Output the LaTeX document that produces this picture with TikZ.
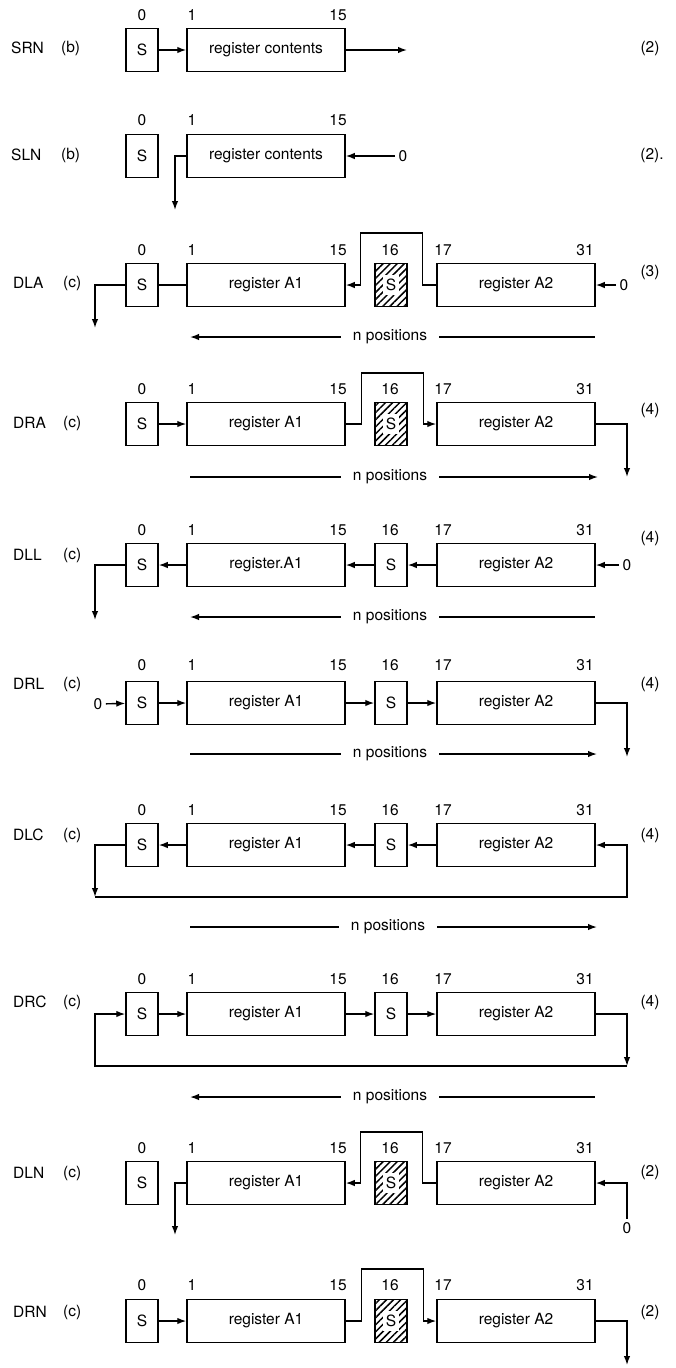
\documentclass[tikz,border=0pt]{standalone}
\usepackage{fontspec}
\setmainfont{TeX Gyre Heros}
\usetikzlibrary{arrows.meta,patterns.meta}

\begin{document}
\begin{tikzpicture}[
    x=1pt, y=-1pt,
    font=\fontsize{15.5}{18}\selectfont,
    bit/.style ={draw, line width=1.5pt, minimum width=32pt, minimum height=43pt,
                 inner sep=0pt},
    reg/.style ={bit, minimum width=158pt},
    hbit/.style={bit, line width=1.8pt,
                 pattern={Lines[angle=45, distance=5pt, line width=1.5pt]},
                 label={[fill=white, inner xsep=2.5pt, inner ysep=4pt]center:S}},
    arr/.style ={-{Latex[length=9pt, width=6.5pt]}, line width=1.4pt},
    ln/.style  ={line width=1.4pt},
    num/.style ={inner sep=0pt},
    op/.style  ={anchor=west, inner sep=0pt},
    npos/.style={inner xsep=12pt, inner ysep=0pt},
  ]
  \useasboundingbox (0,0) rectangle (676,1368);
  % bit numbers above the registers
  \foreach \cy in {15,120}
    \foreach \x/\b in {142/0,192/1,338/15}
      \node[num] (b\cy-\b) at (\x,\cy) {\b};
  \foreach \cy in {250,389,530,665,810,979,1148,1285}
    \foreach \x/\b in {142/0,192/1,338/15,390/16,443/17,585/31}
      \node[num] (b\cy-\b) at (\x,\cy) {\b};

  % SRN
  \node[op] (srnOp) at (11,48) {SRN};
  \node[op] (srnMd) at (61,48) {(b)};
  \node (srnNo) at (650,48) {(2)};
  \node[bit] (srnS0) at (142,50) {S};
  \node[reg] (srnR) at (266,50) {register contents};
  \coordinate (srnOut) at (407,50);
  \draw[arr] (srnS0) -- (srnR);
  \draw[arr] (srnR) -- (srnOut);

  % SLN
  \node[op] (slnOp) at (11,155) {SLN};
  \node[op] (slnMd) at (61,155) {(b)};
  \node (slnNo) at (652,155) {(2).};
  \node[bit] (slnS0) at (142,156) {S};
  \node[reg] (slnR) at (266,156) {register contents};
  \node (slnZero) at (403,156) {0};
  \coordinate (slnOut) at (175,210);
  \draw[arr] (slnZero) -- (slnR);
  \draw[arr] (slnR.west) -| (slnOut);

  % DLA
  \node[op] (dlaOp) at (13,283) {DLA};
  \node[op] (dlaMd) at (63,283) {(c)};
  \node (dlaNo) at (650,272) {(3)};
  \node[bit] (dlaS0) at (142,285) {S};
  \node[reg] (dlaA1) at (266,285) {register A1};
  \node[hbit] (dlaS16) at (391,285) {};
  \node[reg] (dlaA2) at (516,285) {register A2};
  \node (dlaZero) at (624,285) {0};
  \coordinate (dlaOut) at (95,328);
  \draw[ln] (dlaS0) -- (dlaA1);
  \draw[arr] (dlaA2.west) -- ++(-14,0) -- ++(0,-52) -- ++(-62,0) |- (dlaA1.east);
  \draw[arr] (dlaZero) -- (dlaA2);
  \draw[arr] (dlaS0.west) -| (dlaOut);
  \node[npos] (dlaN) at (390,337) {n positions};
  \coordinate (dlaNl) at (190,337);
  \coordinate (dlaNr) at (595,337);
  \draw[arr] (dlaN) -- (dlaNl);
  \draw[ln] (dlaN) -- (dlaNr);

  % DRA
  \node[op] (draOp) at (13,423) {DRA};
  \node[op] (draMd) at (63,423) {(c)};
  \node (draNo) at (650,410) {(4)};
  \node[bit] (draS0) at (142,424) {S};
  \node[reg] (draA1) at (266,424) {register A1};
  \node[hbit] (draS16) at (391,424) {};
  \node[reg] (draA2) at (516,424) {register A2};
  \coordinate (draOut) at (627,477);
  \draw[arr] (draS0) -- (draA1);
  \draw[arr] (draA1.east) -- ++(16,0) -- ++(0,-51) -- ++(62,0) |- (draA2.west);
  \draw[arr] (draA2.east) -| (draOut);
  \node[npos] (draN) at (390,477) {n positions};
  \coordinate (draNl) at (190,477);
  \coordinate (draNr) at (598,477);
  \draw[ln] (draN) -- (draNl);
  \draw[arr] (draN) -- (draNr);

  % DLL
  \node[op] (dllOp) at (13,555) {DLL};
  \node[op] (dllMd) at (63,555) {(c)};
  \node (dllNo) at (650,538) {(4)};
  \node[bit] (dllS0) at (142,565) {S};
  \node[reg] (dllA1) at (266,565) {register.A1};
  \node[bit] (dllS16) at (391,565) {S};
  \node[reg] (dllA2) at (516,565) {register A2};
  \node (dllZero) at (627,565) {0};
  \coordinate (dllOut) at (95,620);
  \draw[arr] (dllZero) -- (dllA2);
  \draw[arr] (dllA2) -- (dllS16);
  \draw[arr] (dllS16) -- (dllA1);
  \draw[arr] (dllA1) -- (dllS0);
  \draw[arr] (dllS0.west) -| (dllOut);
  \node[npos] (dllN) at (390,617) {n positions};
  \coordinate (dllNl) at (190,617);
  \coordinate (dllNr) at (595,617);
  \draw[arr] (dllN) -- (dllNl);
  \draw[ln] (dllN) -- (dllNr);

  % DRL
  \node[op] (drlOp) at (13,684) {DRL};
  \node[op] (drlMd) at (63,684) {(c)};
  \node (drlNo) at (650,684) {(4)};
  \node (drlZero) at (98,704) {0};
  \node[bit] (drlS0) at (142,703) {S};
  \node[reg] (drlA1) at (266,703) {register A1};
  \node[bit] (drlS16) at (391,703) {S};
  \node[reg] (drlA2) at (516,703) {register A2};
  \coordinate (drlOut) at (627,757);
  \draw[arr] (drlZero) -- (drlS0);
  \draw[arr] (drlS0) -- (drlA1);
  \draw[arr] (drlA1) -- (drlS16);
  \draw[arr] (drlS16) -- (drlA2);
  \draw[arr] (drlA2.east) -| (drlOut);
  \node[npos] (drlN) at (390,754) {n positions};
  \coordinate (drlNl) at (190,754);
  \coordinate (drlNr) at (597,754);
  \draw[ln] (drlN) -- (drlNl);
  \draw[arr] (drlN) -- (drlNr);

  % DLC
  \node[op] (dlcOp) at (13,835) {DLC};
  \node[op] (dlcMd) at (63,835) {(c)};
  \node (dlcNo) at (650,835) {(4)};
  \node[bit] (dlcS0) at (142,845) {S};
  \node[reg] (dlcA1) at (266,845) {register A1};
  \node[bit] (dlcS16) at (391,845) {S};
  \node[reg] (dlcA2) at (516,845) {register A2};
  \coordinate (dlcBl) at (95,897);
  \coordinate (dlcBr) at (627,897);
  \draw[arr] (dlcA2) -- (dlcS16);
  \draw[arr] (dlcS16) -- (dlcA1);
  \draw[arr] (dlcA1) -- (dlcS0);
  \draw[arr] (dlcS0.west) -| (dlcBl);
  \draw[arr] (dlcBl) -- (dlcBr) |- (dlcA2.east);
  \node[npos] (dlcN) at (388,927) {n positions};
  \coordinate (dlcNl) at (190,927);
  \coordinate (dlcNr) at (597,927);
  \draw[ln] (dlcN) -- (dlcNl);
  \draw[arr] (dlcN) -- (dlcNr);

  % DRC
  \node[op] (drcOp) at (13,1002) {DRC};
  \node[op] (drcMd) at (63,1002) {(c)};
  \node (drcNo) at (650,1002) {(4)};
  \node[bit] (drcS0) at (142,1014) {S};
  \node[reg] (drcA1) at (266,1014) {register A1};
  \node[bit] (drcS16) at (391,1014) {S};
  \node[reg] (drcA2) at (516,1014) {register A2};
  \coordinate (drcBr) at (627,1066);
  \coordinate (drcBl) at (95,1066);
  \draw[arr] (drcS0) -- (drcA1);
  \draw[arr] (drcA1) -- (drcS16);
  \draw[arr] (drcS16) -- (drcA2);
  \draw[arr] (drcA2.east) -| (drcBr);
  \draw[arr] (drcBr) -- (drcBl) |- (drcS0.west);
  \node[npos] (drcN) at (390,1097) {n positions};
  \coordinate (drcNl) at (190,1097);
  \coordinate (drcNr) at (595,1097);
  \draw[arr] (drcN) -- (drcNl);
  \draw[ln] (drcN) -- (drcNr);

  % DLN
  \node[op] (dlnOp) at (13,1173) {DLN};
  \node[op] (dlnMd) at (63,1173) {(c)};
  \node (dlnNo) at (650,1172) {(2)};
  \node[bit] (dlnS0) at (142,1183) {S};
  \node[reg] (dlnA1) at (266,1183) {register A1};
  \node[hbit] (dlnS16) at (391,1183) {};
  \node[reg] (dlnA2) at (516,1183) {register A2};
  \node (dlnZero) at (627,1228) {0};
  \coordinate (dlnOut) at (175,1235);
  \draw[arr] (dlnA2.west) -- ++(-14,0) -- ++(0,-51) -- ++(-62,0) |- (dlnA1.east);
  \draw[arr] (dlnZero) |- (dlnA2.east);
  \draw[arr] (dlnA1.west) -| (dlnOut);

  % DRN
  \node[op] (drnOp) at (13,1312) {DRN};
  \node[op] (drnMd) at (63,1312) {(c)};
  \node (drnNo) at (650,1312) {(2)};
  \node[bit] (drnS0) at (142,1321) {S};
  \node[reg] (drnA1) at (266,1321) {register A1};
  \node[hbit] (drnS16) at (391,1321) {};
  \node[reg] (drnA2) at (516,1321) {register A2};
  \coordinate (drnOut) at (627,1365);
  \draw[arr] (drnS0) -- (drnA1);
  \draw[arr] (drnA1.east) -- ++(16,0) -- ++(0,-52) -- ++(62,0) |- (drnA2.west);
  \draw[arr] (drnA2.east) -| (drnOut);
\end{tikzpicture}
\end{document}
